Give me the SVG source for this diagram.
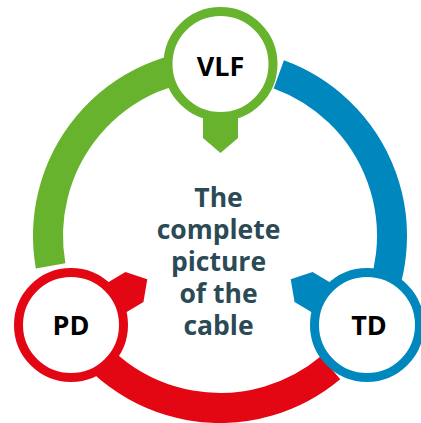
<svg xmlns="http://www.w3.org/2000/svg" width="421" height="423" viewBox="0 0 421 423">
  <style>
    .arc { fill: none; stroke-width: 30; stroke-linecap: butt; }
    .ring { fill: #ffffff; stroke-width: 9; }
    .lbl { font-family: "Open Sans", "Liberation Sans", sans-serif; font-weight: 700; font-size: 27px; fill: #000000; text-anchor: middle; }
    .center { font-family: "Open Sans", "Liberation Sans", sans-serif; font-weight: 700; font-size: 26.5px; fill: #2b4a56; text-anchor: middle; }
  </style>
  <defs>
    <polygon id="tab" points="30,-17.5 74,-17.5 89,0 74,17.5 30,17.5"/>
  </defs>
  <rect width="421" height="423" fill="#ffffff"/>
  <g id="connectors">
    <path class="arc" stroke="#67b32e" d="M 50.61 265.87 A 172 172 0 0 1 220 64"/>
    <path class="arc" stroke="#0087be" d="M 278.83 74.37 A 172 172 0 0 1 368.96 322"/>
    <path class="arc" stroke="#e30613" d="M 330.56 367.76 A 172 172 0 0 1 71.04 322"/>
  </g>
  <g id="node-vlf">
    <use href="#tab" fill="#67b32e" transform="translate(220.5 64) rotate(90)"/>
    <circle class="ring" cx="220.5" cy="64" r="52.5" stroke="#67b32e"/>
    <text class="lbl" x="220.5" y="75.5">VLF</text>
  </g>
  <g id="node-pd">
    <use href="#tab" fill="#e30613" transform="translate(71 325) rotate(-31)"/>
    <circle class="ring" cx="71" cy="325" r="52.5" stroke="#e30613"/>
    <text class="lbl" x="71" y="334.5">PD</text>
  </g>
  <g id="node-td">
    <use href="#tab" fill="#0087be" transform="translate(367 325) rotate(211)"/>
    <circle class="ring" cx="367" cy="325" r="52.5" stroke="#0087be"/>
    <text class="lbl" x="369" y="334.5">TD</text>
  </g>
  <g id="center-text">
    <text class="center" x="218.5" y="206.5">The</text>
    <text class="center" x="218.5" y="238.5">complete</text>
    <text class="center" x="218.5" y="270.5">picture</text>
    <text class="center" x="218.5" y="302.5">of the</text>
    <text class="center" x="218.5" y="334.5">cable</text>
  </g>
</svg>
